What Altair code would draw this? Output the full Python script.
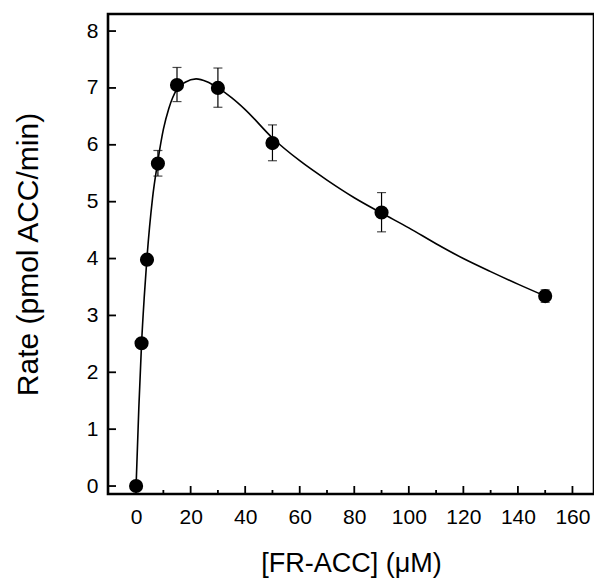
import altair as alt
import pandas as pd

# measured points
conc = [0, 2, 4, 8, 15, 30, 50, 90, 150]
rate = [0.0, 2.51, 3.98, 5.67, 7.05, 7.0, 6.03, 4.81, 3.34]
err_lo = [0, 0, 0, 0.22, 0.29, 0.34, 0.31, 0.34, 0.11]
err_hi = [0, 0, 0, 0.23, 0.31, 0.35, 0.32, 0.35, 0.11]

# fitted curve
curve_x = [0, 1, 2, 3, 4, 6, 8, 10, 12, 15, 18, 22, 26, 30, 35, 40, 50,
           60, 70, 80, 90, 100, 110, 120, 130, 140, 150]
curve_y = [0.0, 1.37, 2.5, 3.33, 4.02, 5.05, 5.72, 6.27, 6.64, 6.98, 7.1, 7.16,
           7.11, 7.0, 6.83, 6.62, 6.12, 5.72, 5.38, 5.07, 4.8, 4.54, 4.26,
           4.0, 3.77, 3.55, 3.34]

x_major = [0, 20, 40, 60, 80, 100, 120, 140, 160]
x_minor = [10, 30, 50, 70, 90, 110, 130, 150]
y_major = [0, 1, 2, 3, 4, 5, 6, 7, 8]

W, H = 486, 480
FONT = "Liberation Sans"

pts = pd.DataFrame({"x": conc, "y": rate,
                    "lo": [r - e for r, e in zip(rate, err_lo)],
                    "hi": [r + e for r, e in zip(rate, err_hi)]})
eb = pts[[e > 0 for e in err_hi]]
cur = pd.DataFrame({"x": curve_x, "y": curve_y})

xscale = alt.Scale(domain=[-10.3, 167.9], nice=False, zero=False)
yscale = alt.Scale(domain=[-0.14, 8.3], nice=False, zero=False)

xaxis = alt.Axis(values=x_major, ticks=False, domain=False, grid=False,
                 labelFontSize=21, labelFont=FONT, labelColor="black",
                 labelPadding=12, title="[FR-ACC] (\u03bcM)",
                 titleFont=FONT, titleFontSize=27, titleFontWeight="normal",
                 titleColor="black", titlePadding=23, labelFlush=False)
yaxis = alt.Axis(values=y_major, ticks=False, domain=False, grid=False,
                 labelFontSize=21, labelFont=FONT, labelColor="black",
                 labelPadding=10, title="Rate (pmol ACC/min)",
                 titleFont=FONT, titleFontSize=30, titleFontWeight="normal",
                 titleColor="black", titlePadding=43, labelFlush=False)

X = lambda f="x": alt.X(f"{f}:Q", scale=xscale, axis=xaxis)
Y = lambda f="y": alt.Y(f"{f}:Q", scale=yscale, axis=yaxis)

line = alt.Chart(cur).mark_line(color="black", strokeWidth=1.6,
                                interpolate="monotone").encode(x=X(), y=Y())

bars = alt.Chart(eb).mark_rule(color="black", strokeWidth=1.2).encode(
    x=X(), y=alt.Y("lo:Q", scale=yscale, axis=yaxis), y2="hi:Q")
cap_lo = alt.Chart(eb).mark_tick(color="black", orient="horizontal", size=9,
                                 thickness=1.2).encode(
    x=X(), y=alt.Y("lo:Q", scale=yscale, axis=yaxis))
cap_hi = alt.Chart(eb).mark_tick(color="black", orient="horizontal", size=9,
                                 thickness=1.2).encode(
    x=X(), y=alt.Y("hi:Q", scale=yscale, axis=yaxis))

dots = alt.Chart(pts).mark_circle(color="black", opacity=1, size=200).encode(
    x=X(), y=Y())

ytick = alt.Chart(pd.DataFrame({"y": y_major})).mark_rule(
    color="black", strokeWidth=1.8).encode(
    y=Y(), x=alt.value(0), x2=alt.value(8))
xtick = alt.Chart(pd.DataFrame({"x": x_major})).mark_rule(
    color="black", strokeWidth=1.8).encode(
    x=X(), y=alt.value(H), y2=alt.value(H - 8))
xtick_m = alt.Chart(pd.DataFrame({"x": x_minor})).mark_rule(
    color="black", strokeWidth=1.8).encode(
    x=X(), y=alt.value(H), y2=alt.value(H - 4))

chart = alt.layer(line, bars, cap_lo, cap_hi, dots, ytick, xtick, xtick_m).properties(
    width=W, height=H,
    autosize=alt.AutoSizeParams(type="none"),
    padding={"left": 100, "top": 6, "right": 0, "bottom": 84},
    background="white",
).configure_view(stroke="black", strokeWidth=2.6)

chart.save("out.html", embed_options={"renderer": "svg", "actions": False})
